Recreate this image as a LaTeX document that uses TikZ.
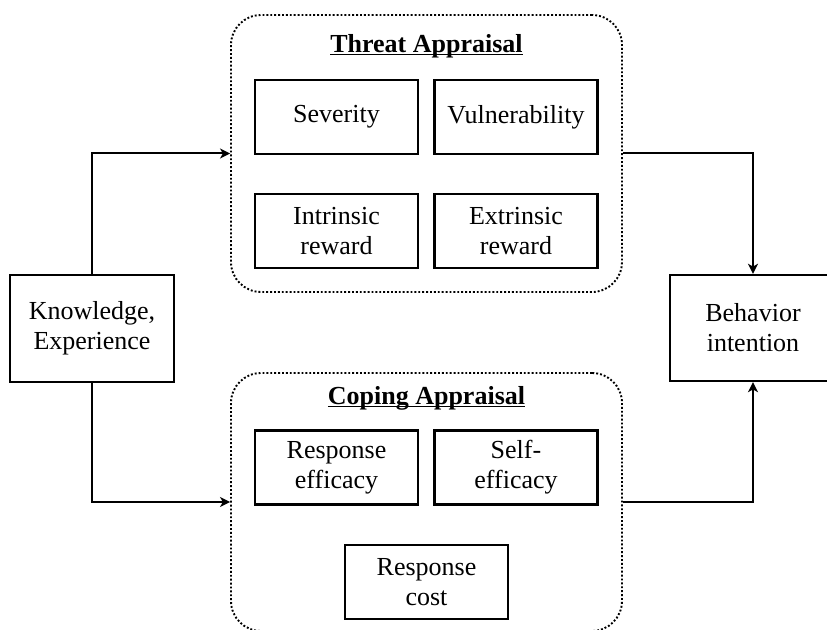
\documentclass[tikz,border=0pt]{standalone}
\usepackage{fontspec}
\setmainfont{Liberation Serif}
\usepackage{tikz}
\usetikzlibrary{arrows.meta}
\tikzset{>={Stealth[length=5pt,width=5pt,inset=1.4pt]}}
\newcommand{\titleline}[1]{\setbox0\hbox{#1}\rlap{\rule[-1.6pt]{\wd0}{0.55pt}}\box0}
\tikzset{
    factor/.style={draw, line width=1.2pt, minimum width=81.5pt, minimum height=37pt, align=center, inner sep=1pt,
        font=\fontsize{13}{15}\selectfont},
    appraisal/.style={draw, densely dotted, line width=0.95pt, rounded corners=15pt, minimum width=195.5pt},
    heading/.style={font=\fontsize{13}{15}\selectfont\bfseries, inner sep=0pt},
    link/.style={->, line width=1pt}
}

\begin{document}
\begin{tikzpicture}[x=0.5pt, y=-0.5pt]
            \useasboundingbox (0, 0) rectangle (827, 630);
            \clip (0, 0) rectangle (827, 630);
            \fill[white] (0, 0) rectangle (827, 630);
            % outer groups
            \node[appraisal, minimum height=138.5pt] (threat) at (426.5, 153.5) {};
            \node[appraisal, minimum height=129pt] (coping) at (426.5, 502) {};
            \node[heading] (threattitle) at (426.5, 46) {\titleline{Threat Appraisal}};
            \node[heading] (copingtitle) at (426.5, 398) {\titleline{Coping Appraisal}};
            % threat factors
            \node[factor] (severity) at (336.5, 117) {Severity};
            \node[factor] (vulnerability) at (516, 117) {Vulnerability};
            \node[factor] (intrinsic) at (336.5, 231) {Intrinsic\\reward};
            \node[factor] (extrinsic) at (516, 231) {Extrinsic\\reward};
            % coping factors
            \node[factor] (responseeff) at (336.5, 467.5) {Response\\efficacy};
            \node[factor] (selfeff) at (516, 467.5) {Self-\\efficacy};
            \node[factor] (responsecost) at (426.5, 582) {Response\\cost};
            % input and output
            \node[factor, minimum width=82pt, minimum height=53.5pt] (knowledge) at (92, 328.5) {Knowledge,\\Experience};
            \node[factor, minimum width=83pt, minimum height=53pt] (behavior) at (753, 328) {Behavior\\intention};
            \draw[link] (knowledge.north) |- (threat.west);
            \draw[link] (knowledge.south) |- (coping.west);
            \draw[link] (threat.east) -| (behavior.north);
            \draw[link] (coping.east) -| (behavior.south);
        \end{tikzpicture}
\end{document}
